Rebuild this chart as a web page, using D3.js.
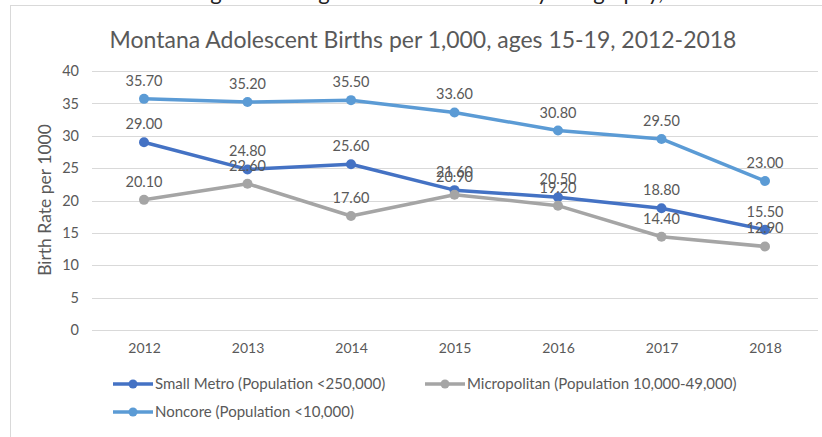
<meta charset="utf-8">
<style>
  body { margin: 0; background: #fff; }
  text { font-family: Lato, "Open Sans", sans-serif; fill: #595959; }
  .grid line { stroke: #d9d9d9; stroke-width: 1; }
  .series { fill: none; stroke-width: 3.5; stroke-linejoin: round; }
</style>
<body>
<script src="https://d3js.org/d3.v7.min.js"></script>
<script>
  // chart values
  const years = ["2012", "2013", "2014", "2015", "2016", "2017", "2018"];
  const smallMetro = [29.0, 24.8, 25.6, 21.6, 20.5, 18.8, 15.5];
  const micropolitan = [20.1, 22.6, 17.6, 20.9, 19.2, 14.4, 12.9];
  const noncore = [35.7, 35.2, 35.5, 33.6, 30.8, 29.5, 23.0];
  const yTicks = [0, 5, 10, 15, 20, 25, 30, 35, 40];
  const seriesNames = [
    "Small Metro (Population <250,000)",
    "Micropolitan (Population 10,000-49,000)",
    "Noncore (Population <10,000)"
  ];
  const seriesColors = ["#4472c4", "#a5a5a5", "#5b9bd5"];

  const series = [
    { name: seriesNames[0], values: smallMetro, color: seriesColors[0] },
    { name: seriesNames[1], values: micropolitan, color: seriesColors[1] },
    { name: seriesNames[2], values: noncore, color: seriesColors[2] }
  ];

  const W = 822, H = 437;
  const svg = d3.select("body").append("svg")
    .attr("width", W).attr("height", H);

  // cut-off caption from the page above the chart
  svg.append("text")
    .attr("x", 430).attr("y", 0)
    .attr("text-anchor", "middle")
    .style("fill", "#222").style("font-size", "22px")
    .text("Percent Change in Teenage Births in Montana by Geography, 2012-2018");

  // chart frame
  svg.append("rect")
    .attr("x", 10.5).attr("y", 5.5)
    .attr("width", 830).attr("height", 450)
    .attr("fill", "#fff").attr("stroke", "#d9d9d9");

  // title, fitted to the width seen in the reference
  const title = svg.append("text")
    .attr("x", 423).attr("y", 48)
    .attr("text-anchor", "middle")
    .style("font-size", "20px")
    .text("Montana Adolescent Births per 1,000, ages 15-19, 2012-2018");
  const tw = title.node().getComputedTextLength();
  title.style("font-size", (20 * 627 / tw) + "px");

  const x = d3.scalePoint().domain(years).range([144, 765]);
  const y = d3.scaleLinear().domain([0, 40]).range([330, 71]);

  // gridlines
  svg.append("g").attr("class", "grid")
    .selectAll("line").data(yTicks).join("line")
    .attr("x1", 92).attr("x2", 818)
    .attr("y1", d => Math.round(y(d)) + 0.5)
    .attr("y2", d => Math.round(y(d)) + 0.5);

  // y axis labels
  const yAxis = svg.append("g").attr("transform", "translate(79,0)")
    .call(d3.axisLeft(y).tickValues(yTicks).tickSize(0).tickPadding(0));
  yAxis.select(".domain").remove();
  yAxis.selectAll("text").style("font-size", "14.5px").style("fill", "#595959")
    .style("font-family", "Lato, sans-serif");

  // x axis labels
  const xAxis = svg.append("g").attr("transform", "translate(0,343)")
    .call(d3.axisBottom(x).tickSize(0).tickPadding(0));
  xAxis.select(".domain").remove();
  xAxis.selectAll("text").style("font-size", "14px").style("fill", "#595959")
    .style("font-family", "Lato, sans-serif");

  // y axis title
  svg.append("text")
    .attr("transform", "translate(51,200) rotate(-90)")
    .attr("text-anchor", "middle")
    .style("font-size", "17.5px")
    .text("Birth Rate per 1000");

  const line = d3.line()
    .x((d, i) => x(years[i]))
    .y(d => y(d));

  const groups = svg.selectAll(".s").data(series).join("g");

  groups.append("path")
    .attr("class", "series")
    .attr("stroke", d => d.color)
    .attr("d", d => line(d.values));

  groups.selectAll("circle").data(d => d.values.map(v => ({ v, c: d.color })))
    .join("circle")
    .attr("cx", (d, i) => x(years[i]))
    .attr("cy", d => y(d.v))
    .attr("r", 5)
    .attr("fill", d => d.c);

  // data labels
  groups.selectAll(".lbl").data(d => d.values).join("text")
    .attr("class", "lbl")
    .attr("x", (d, i) => x(years[i]))
    .attr("y", d => y(d) - 13)
    .attr("text-anchor", "middle")
    .style("font-size", "14.5px")
    .text(d => d.toFixed(2));

  // legend
  const legendPos = [[113, 384], [425, 384], [113, 412]];
  const legend = svg.selectAll(".leg").data(series).join("g")
    .attr("transform", (d, i) => `translate(${legendPos[i][0]},${legendPos[i][1]})`);
  legend.append("line")
    .attr("x1", 0).attr("x2", 40)
    .attr("stroke", d => d.color).attr("stroke-width", 3.5);
  legend.append("circle")
    .attr("cx", 20).attr("r", 4.5)
    .attr("fill", d => d.color);
  legend.append("text")
    .attr("x", 42).attr("y", 5)
    .style("font-size", "15px")
    .text(d => d.name);
</script>
</body>
</html>
